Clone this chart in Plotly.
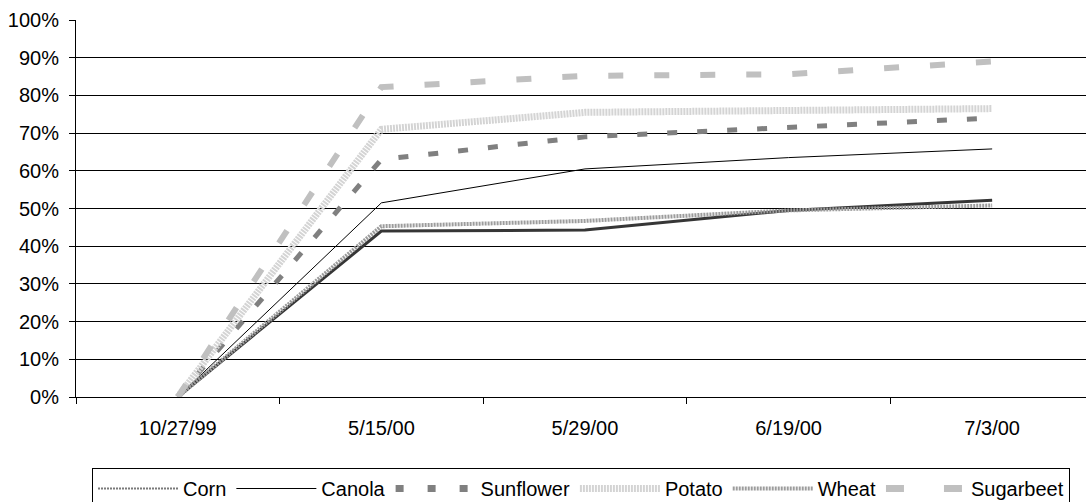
import plotly.graph_objects as go

dates = ["10/27/99", "5/15/00", "5/29/00", "6/19/00", "7/3/00"]
corn = [0, 44.0, 44.3, 49.5, 52.2]
canola = [0, 51.5, 60.5, 63.5, 65.8]
sunflower = [0, 63.0, 69.0, 71.5, 74.0]
potato = [0, 71.0, 75.5, 76.2, 76.5]
wheat = [0, 45.3, 46.7, 49.5, 50.8]
sugarbeet = [0, 82.2, 85.2, 85.6, 89.0]

series = [
    # name, values, chart line style, legend line style
    ("Corn", corn, dict(color="#363636", width=3),
     dict(color="#7a7a7a", width=2, dash="2px,1px")),
    ("Canola", canola, dict(color="#000000", width=1),
     dict(color="#000000", width=1)),
    ("Sunflower", sunflower, dict(color="#808080", width=5, dash="10px,20px"),
     dict(color="#808080", width=7, dash="8px,24px")),
    ("Potato", potato, dict(color="#d4d4d4", width=7, dash="2px,1px"),
     dict(color="#d4d4d4", width=7, dash="2px,1px")),
    ("Wheat", wheat, dict(color="#9c9c9c", width=4, dash="2px,1px"),
     dict(color="#9c9c9c", width=4, dash="2px,1px")),
    ("Sugarbeet", sugarbeet, dict(color="#c0c0c0", width=6, dash="15px,31px"),
     dict(color="#c0c0c0", width=7, dash="18px,40px")),
]

fig = go.Figure()
for name, vals, style, _ in series:
    fig.add_trace(go.Scatter(x=dates, y=vals, mode="lines", name=name,
                             line=style, showlegend=False, hoverinfo="skip"))
for name, vals, _, lstyle in series:
    fig.add_trace(go.Scatter(x=[None], y=[None], mode="lines", name=name,
                             line=lstyle, showlegend=True))

FONT = "Liberation Sans, Arial, sans-serif"
fig.update_layout(
    width=1086, height=502, autosize=False,
    margin=dict(l=76, r=0, t=20, b=105, pad=0),
    paper_bgcolor="white", plot_bgcolor="white",
    font=dict(family=FONT, size=20, color="black"),
    legend=dict(orientation="h", xref="container", yref="container",
                x=92 / 1086, y=1 - 468 / 502, xanchor="left", yanchor="top",
                bordercolor="black", borderwidth=1, bgcolor="white",
                itemwidth=80, tracegroupgap=0,
                font=dict(family=FONT, size=20)),
)
fig.update_xaxes(type="category", categoryorder="array", categoryarray=dates,
                 range=[-0.5, 4.461], showline=True, linecolor="black", linewidth=1,
                 ticks="outside", tickson="boundaries", ticklen=6, tickcolor="black",
                 showgrid=False, zeroline=False, ticklabelstandoff=13)
fig.update_yaxes(range=[0, 100], tick0=0, dtick=10, ticksuffix="%",
                 showgrid=True, gridcolor="black", gridwidth=1,
                 showline=True, linecolor="black", linewidth=1,
                 ticks="outside", ticklen=6, tickcolor="black",
                 zeroline=False, ticklabelstandoff=6)

fig.write_html("out.html")
